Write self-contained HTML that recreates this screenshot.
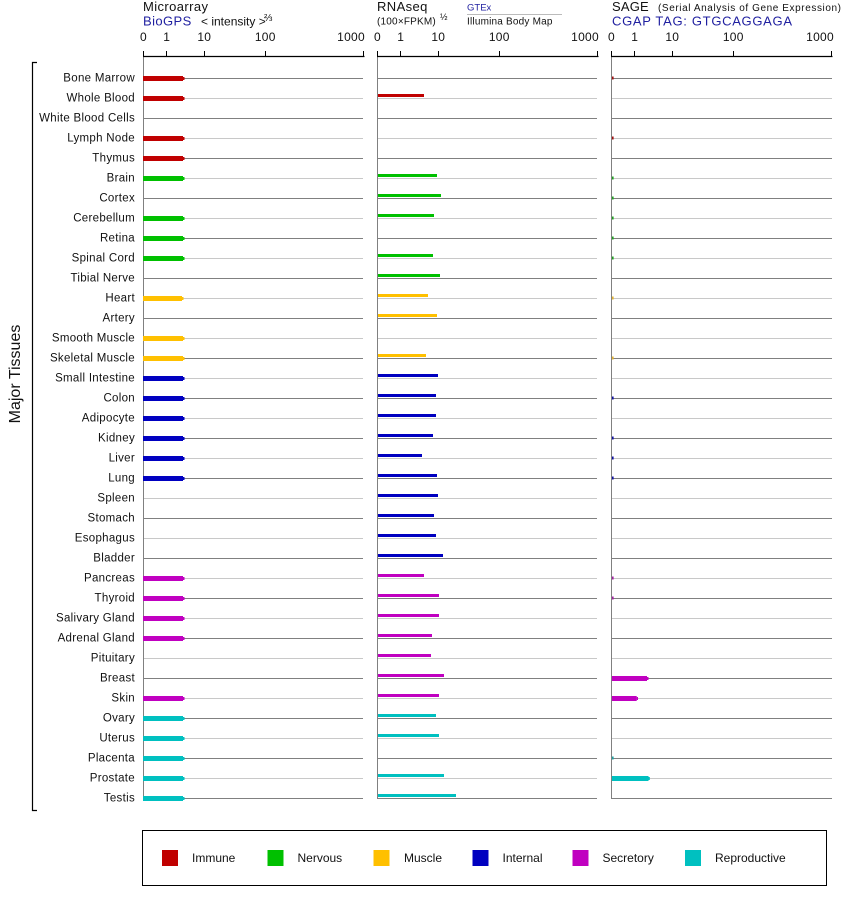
<!DOCTYPE html>
<html><head><meta charset="utf-8"><style>
html,body{margin:0;padding:0;background:#fff;}
svg{display:block;font-family:"Liberation Sans",Arial,sans-serif;}
.lbl{font-size:11.5px;letter-spacing:0.3px;text-anchor:end;fill:#111;}
.tk{font-size:12px;letter-spacing:0.3px;text-anchor:middle;fill:#111;}
.lg{font-size:12px;fill:#111;}
</style></head><body>
<svg width="842" height="900" viewBox="0 0 842 900" xmlns="http://www.w3.org/2000/svg">
<rect width="842" height="900" fill="#fff"/>

<!-- headers -->
<text x="143" y="11" font-size="13" letter-spacing="0.4" fill="#111">Microarray</text>
<text x="143" y="25.5" font-size="13" letter-spacing="0.4" fill="#1f1fa0">BioGPS</text>
<text x="201" y="25.5" font-size="12" fill="#111">&lt; intensity &gt;</text>
<text x="264" y="21" font-size="10" fill="#111">⅔</text>

<text x="377" y="11" font-size="13" letter-spacing="0.4" fill="#111">RNAseq</text>
<text x="377" y="24.5" font-size="10" letter-spacing="0.2" fill="#111">(100×FPKM)</text>
<text x="440" y="20" font-size="9" fill="#111">½</text>
<text x="467" y="10.5" font-size="9.5" fill="#1f1fa0">GTEx</text>
<line x1="467" y1="14.5" x2="562" y2="14.5" stroke="#bbb" stroke-width="1"/>
<text x="467" y="24.5" font-size="10" letter-spacing="0.2" fill="#111">Illumina Body Map</text>

<text x="612" y="11" font-size="13" letter-spacing="0.2" fill="#111">SAGE</text>
<text x="658" y="11" font-size="10" textLength="183" lengthAdjust="spacing" fill="#111">(Serial Analysis of Gene Expression)</text>
<text x="612" y="25.5" font-size="13" textLength="180" lengthAdjust="spacing" fill="#1f1fa0">CGAP TAG: GTGCAGGAGA</text>

<!-- tick labels -->
<g class="tk">
<text x="143.5" y="41">0</text><text x="166.7" y="41">1</text><text x="204.3" y="41">10</text><text x="265.3" y="41">100</text><text x="365" y="41" style="text-anchor:end">1000</text>
<text x="377.5" y="41">0</text><text x="400.7" y="41">1</text><text x="438.3" y="41">10</text><text x="499.3" y="41">100</text><text x="599" y="41" style="text-anchor:end">1000</text>
<text x="611.5" y="41">0</text><text x="634.7" y="41">1</text><text x="672.3" y="41">10</text><text x="733.3" y="41">100</text><text x="834" y="41" style="text-anchor:end">1000</text>
</g>

<!-- row grid lines -->
<path fill="none" stroke="#808080" stroke-width="1" d="
M143 78.5H363M377 78.5H597M611 78.5H832
M143 118.5H363M377 118.5H597M611 118.5H832
M143 158.5H363M377 158.5H597M611 158.5H832
M143 198.5H363M377 198.5H597M611 198.5H832
M143 238.5H363M377 238.5H597M611 238.5H832
M143 278.5H363M377 278.5H597M611 278.5H832
M143 318.5H363M377 318.5H597M611 318.5H832
M143 358.5H363M377 358.5H597M611 358.5H832
M143 398.5H363M377 398.5H597M611 398.5H832
M143 438.5H363M377 438.5H597M611 438.5H832
M143 478.5H363M377 478.5H597M611 478.5H832
M143 518.5H363M377 518.5H597M611 518.5H832
M143 558.5H363M377 558.5H597M611 558.5H832
M143 598.5H363M377 598.5H597M611 598.5H832
M143 638.5H363M377 638.5H597M611 638.5H832
M143 678.5H363M377 678.5H597M611 678.5H832
M143 718.5H363M377 718.5H597M611 718.5H832
M143 758.5H363M377 758.5H597M611 758.5H832
M143 798.5H363M377 798.5H597M611 798.5H832"/>
<path fill="none" stroke="#c8c8c8" stroke-width="1" d="
M143 98.5H363M377 98.5H597M611 98.5H832
M143 138.5H363M377 138.5H597M611 138.5H832
M143 178.5H363M377 178.5H597M611 178.5H832
M143 218.5H363M377 218.5H597M611 218.5H832
M143 258.5H363M377 258.5H597M611 258.5H832
M143 298.5H363M377 298.5H597M611 298.5H832
M143 338.5H363M377 338.5H597M611 338.5H832
M143 378.5H363M377 378.5H597M611 378.5H832
M143 418.5H363M377 418.5H597M611 418.5H832
M143 458.5H363M377 458.5H597M611 458.5H832
M143 498.5H363M377 498.5H597M611 498.5H832
M143 538.5H363M377 538.5H597M611 538.5H832
M143 578.5H363M377 578.5H597M611 578.5H832
M143 618.5H363M377 618.5H597M611 618.5H832
M143 658.5H363M377 658.5H597M611 658.5H832
M143 698.5H363M377 698.5H597M611 698.5H832
M143 738.5H363M377 738.5H597M611 738.5H832
M143 778.5H363M377 778.5H597M611 778.5H832"/>

<!-- vertical axis lines -->
<path fill="none" stroke="#808080" stroke-width="1" d="M143.5 56V799M377.5 56V799M611.5 56V799"/>

<!-- top axes -->
<path fill="none" stroke="#000" stroke-width="1.2" d="M143 56.5H364.5M377 56.5H598.5M611 56.5H832.5"/>
<path fill="none" stroke="#000" stroke-width="1" d="
M143.5 51V56M166.5 51V56M204.5 51V56M265.5 51V56M363.5 51V56
M377.5 51V56M400.5 51V56M438.5 51V56M499.5 51V56M597.5 51V56
M611.5 51V56M634.5 51V56M672.5 51V56M733.5 51V56M831.5 51V56"/>

<!-- row labels -->
<g class="lbl">
<text x="135" y="81.7">Bone Marrow</text>
<text x="135" y="101.7">Whole Blood</text>
<text x="135" y="121.7">White Blood Cells</text>
<text x="135" y="141.7">Lymph Node</text>
<text x="135" y="161.7">Thymus</text>
<text x="135" y="181.7">Brain</text>
<text x="135" y="201.7">Cortex</text>
<text x="135" y="221.7">Cerebellum</text>
<text x="135" y="241.7">Retina</text>
<text x="135" y="261.7">Spinal Cord</text>
<text x="135" y="281.7">Tibial Nerve</text>
<text x="135" y="301.7">Heart</text>
<text x="135" y="321.7">Artery</text>
<text x="135" y="341.7">Smooth Muscle</text>
<text x="135" y="361.7">Skeletal Muscle</text>
<text x="135" y="381.7">Small Intestine</text>
<text x="135" y="401.7">Colon</text>
<text x="135" y="421.7">Adipocyte</text>
<text x="135" y="441.7">Kidney</text>
<text x="135" y="461.7">Liver</text>
<text x="135" y="481.7">Lung</text>
<text x="135" y="501.7">Spleen</text>
<text x="135" y="521.7">Stomach</text>
<text x="135" y="541.7">Esophagus</text>
<text x="135" y="561.7">Bladder</text>
<text x="135" y="581.7">Pancreas</text>
<text x="135" y="601.7">Thyroid</text>
<text x="135" y="621.7">Salivary Gland</text>
<text x="135" y="641.7">Adrenal Gland</text>
<text x="135" y="661.7">Pituitary</text>
<text x="135" y="681.7">Breast</text>
<text x="135" y="701.7">Skin</text>
<text x="135" y="721.7">Ovary</text>
<text x="135" y="741.7">Uterus</text>
<text x="135" y="761.7">Placenta</text>
<text x="135" y="781.7">Prostate</text>
<text x="135" y="801.7">Testis</text>
</g>

<!-- bracket + Major Tissues -->
<path fill="none" stroke="#000" stroke-width="1.2" d="M37 62.5H32.5V810.5H37"/>
<text transform="translate(20,374) rotate(-90)" font-size="16" text-anchor="middle" fill="#111">Major Tissues</text>

<!-- Panel 1 bars (microarray) -->
<g fill="#c00000">
<rect x="143" y="76" width="40" height="5"/><rect x="183" y="77" width="1.5" height="3"/>
<rect x="143" y="96" width="40" height="5"/><rect x="183" y="97" width="1.5" height="3"/>
<rect x="143" y="136" width="40" height="5"/><rect x="183" y="137" width="1.5" height="3"/>
<rect x="143" y="156" width="40" height="5"/><rect x="183" y="157" width="1.5" height="3"/>
</g>
<g fill="#00c000">
<rect x="143" y="176" width="40" height="5"/><rect x="183" y="177" width="1.5" height="3"/>
<rect x="143" y="216" width="40" height="5"/><rect x="183" y="217" width="1.5" height="3"/>
<rect x="143" y="236" width="40" height="5"/><rect x="183" y="237" width="1.5" height="3"/>
<rect x="143" y="256" width="40" height="5"/><rect x="183" y="257" width="1.5" height="3"/>
</g>
<g fill="#ffc000">
<rect x="143" y="296" width="39" height="5"/><rect x="182" y="297" width="1.5" height="3"/>
<rect x="143" y="336" width="40" height="5"/><rect x="183" y="337" width="1.5" height="3"/>
<rect x="143" y="356" width="40" height="5"/><rect x="183" y="357" width="1.5" height="3"/>
</g>
<g fill="#0000c0">
<rect x="143" y="376" width="40" height="5"/><rect x="183" y="377" width="1.5" height="3"/>
<rect x="143" y="396" width="40" height="5"/><rect x="183" y="397" width="1.5" height="3"/>
<rect x="143" y="416" width="40" height="5"/><rect x="183" y="417" width="1.5" height="3"/>
<rect x="143" y="436" width="40" height="5"/><rect x="183" y="437" width="1.5" height="3"/>
<rect x="143" y="456" width="40" height="5"/><rect x="183" y="457" width="1.5" height="3"/>
<rect x="143" y="476" width="40" height="5"/><rect x="183" y="477" width="1.5" height="3"/>
</g>
<g fill="#c000c0">
<rect x="143" y="576" width="40" height="5"/><rect x="183" y="577" width="1.5" height="3"/>
<rect x="143" y="596" width="40" height="5"/><rect x="183" y="597" width="1.5" height="3"/>
<rect x="143" y="616" width="40" height="5"/><rect x="183" y="617" width="1.5" height="3"/>
<rect x="143" y="636" width="40" height="5"/><rect x="183" y="637" width="1.5" height="3"/>
<rect x="143" y="696" width="40" height="5"/><rect x="183" y="697" width="1.5" height="3"/>
</g>
<g fill="#00c0c0">
<rect x="143" y="716" width="40" height="5"/><rect x="183" y="717" width="1.5" height="3"/>
<rect x="143" y="736" width="40" height="5"/><rect x="183" y="737" width="1.5" height="3"/>
<rect x="143" y="756" width="40" height="5"/><rect x="183" y="757" width="1.5" height="3"/>
<rect x="143" y="776" width="40" height="5"/><rect x="183" y="777" width="1.5" height="3"/>
<rect x="143" y="796" width="40" height="5"/><rect x="183" y="797" width="1.5" height="3"/>
</g>

<!-- Panel 2 bars (RNAseq) -->
<g fill="#c00000">
<rect x="378" y="94" width="46" height="3"/>
</g>
<g fill="#00c000">
<rect x="378" y="174" width="59" height="3"/>
<rect x="378" y="194" width="63" height="3"/>
<rect x="378" y="214" width="56" height="3"/>
<rect x="378" y="254" width="55" height="3"/>
<rect x="378" y="274" width="62" height="3"/>
</g>
<g fill="#ffc000">
<rect x="378" y="294" width="50" height="3"/>
<rect x="378" y="314" width="59" height="3"/>
<rect x="378" y="354" width="48" height="3"/>
</g>
<g fill="#0000c0">
<rect x="378" y="374" width="60" height="3"/>
<rect x="378" y="394" width="58" height="3"/>
<rect x="378" y="414" width="58" height="3"/>
<rect x="378" y="434" width="55" height="3"/>
<rect x="378" y="454" width="44" height="3"/>
<rect x="378" y="474" width="59" height="3"/>
<rect x="378" y="494" width="60" height="3"/>
<rect x="378" y="514" width="56" height="3"/>
<rect x="378" y="534" width="58" height="3"/>
<rect x="378" y="554" width="65" height="3"/>
</g>
<g fill="#c000c0">
<rect x="378" y="574" width="46" height="3"/>
<rect x="378" y="594" width="61" height="3"/>
<rect x="378" y="614" width="61" height="3"/>
<rect x="378" y="634" width="54" height="3"/>
<rect x="378" y="654" width="53" height="3"/>
<rect x="378" y="674" width="66" height="3"/>
<rect x="378" y="694" width="61" height="3"/>
</g>
<g fill="#00c0c0">
<rect x="378" y="714" width="58" height="3"/>
<rect x="378" y="734" width="61" height="3"/>
<rect x="378" y="774" width="66" height="3"/>
<rect x="378" y="794" width="78" height="3"/>
</g>

<!-- Panel 3 (SAGE) -->
<g fill="#a01010">
<rect x="612" y="76.5" width="1.6" height="3"/>
<rect x="612" y="136.5" width="1.6" height="3"/>
</g>
<g fill="#20a020">
<rect x="612" y="176.5" width="1.6" height="3"/>
<rect x="612" y="196.5" width="1.6" height="3"/>
<rect x="612" y="216.5" width="1.6" height="3"/>
<rect x="612" y="236.5" width="1.6" height="3"/>
<rect x="612" y="256.5" width="1.6" height="3"/>
</g>
<g fill="#e0b030">
<rect x="612" y="296.5" width="1.6" height="3"/>
<rect x="612" y="356.5" width="1.6" height="3"/>
</g>
<g fill="#1010a0">
<rect x="612" y="396.5" width="1.6" height="3"/>
<rect x="612" y="436.5" width="1.6" height="3"/>
<rect x="612" y="456.5" width="1.6" height="3"/>
<rect x="612" y="476.5" width="1.6" height="3"/>
</g>
<g fill="#a020a0">
<rect x="612" y="576.5" width="1.6" height="3"/>
<rect x="612" y="596.5" width="1.6" height="3"/>
</g>
<g fill="#20a0a0">
<rect x="612" y="756.5" width="1.6" height="3"/>
</g>
<g fill="#c000c0">
<rect x="612" y="676" width="35" height="5"/><rect x="647" y="677" width="1.5" height="3"/>
<rect x="612" y="696" width="24.7" height="5"/><rect x="636.7" y="697" width="1.3" height="3"/>
</g>
<g fill="#00c0c0">
<rect x="612" y="776" width="36.5" height="5"/><rect x="648.5" y="777" width="1.3" height="3"/>
</g>

<!-- Legend -->
<rect x="142.5" y="830.5" width="684" height="55" fill="none" stroke="#000" stroke-width="1"/>
<rect x="162" y="850" width="16" height="16" fill="#c00000"/>
<text class="lg" x="192" y="862">Immune</text>
<rect x="267.5" y="850" width="16" height="16" fill="#00c000"/>
<text class="lg" x="297.5" y="862">Nervous</text>
<rect x="373.5" y="850" width="16" height="16" fill="#ffc000"/>
<text class="lg" x="404" y="862">Muscle</text>
<rect x="472.5" y="850" width="16" height="16" fill="#0000c0"/>
<text class="lg" x="502.5" y="862">Internal</text>
<rect x="572.5" y="850" width="16" height="16" fill="#c000c0"/>
<text class="lg" x="602.5" y="862">Secretory</text>
<rect x="685" y="850" width="16" height="16" fill="#00c0c0"/>
<text class="lg" x="715" y="862">Reproductive</text>
</svg>
</body></html>
